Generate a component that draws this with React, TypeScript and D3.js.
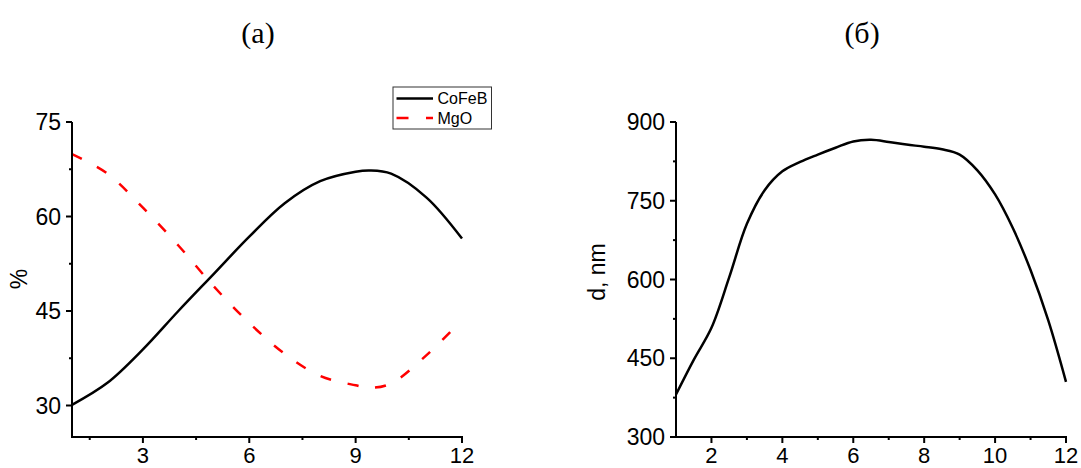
import React from 'react';
import * as d3 from 'd3';

// chart (a): composition, %
const xA = [1, 2, 3, 4, 5, 6, 7, 8, 9, 9.4, 10, 11, 12];
const cofeb = [30.1, 33.6, 38.9, 45.0, 50.9, 56.8, 62.1, 65.6, 67.1, 67.3, 66.8, 63.0, 56.5];
const mgo = [69.9, 66.8, 61.4, 55.4, 48.9, 43.1, 38.2, 34.7, 33.2, 32.8, 33.5, 38.0, 43.6];
const ticksAX = [3, 6, 9, 12];
const minorAX = [1.5, 4.5, 7.5, 10.5];
const ticksAY = [30, 45, 60, 75];
const minorAY = [37.5, 52.5, 67.5];

// chart (б): thickness d, nm
const xB = [1, 1.5, 2, 2.5, 3, 3.5, 4, 4.5, 5, 5.5, 6, 6.5, 7, 7.5, 8, 8.5, 9, 9.5, 10, 10.5, 11, 11.5, 12];
const thick = [381, 447, 508, 604, 706, 770, 806, 824, 838, 851, 863, 866, 862, 857, 853, 848, 838, 808, 762, 698, 618, 522, 405];
const ticksBX = [2, 4, 6, 8, 10, 12];
const minorBX = [3, 5, 7, 9, 11];
const ticksBY = [300, 450, 600, 750, 900];
const minorBY = [375, 525, 675, 825];

const FONT = 'Arial, "Liberation Sans", sans-serif';
const SERIF = '"Liberation Serif", "Times New Roman", serif';

type AxesProps = {
  x: d3.ScaleLinear<number, number>;
  y: d3.ScaleLinear<number, number>;
  xt: number[];
  xm: number[];
  yt: number[];
  ym: number[];
};

const Axes = ({ x, y, xt, xm, yt, ym }: AxesProps) => {
  const [x0, x1] = x.range();
  const [y0, y1] = y.range();
  return (
    <g stroke="#000" strokeWidth={2}>
      <line x1={x0} x2={x0} y1={y0 + 1} y2={y1} />
      <line x1={x0} x2={x1 + 1} y1={y0} y2={y0} />
      {yt.map((t) => (
        <g key={'y' + t}>
          <line x1={x0 - 6} x2={x0} y1={y(t)} y2={y(t)} />
          <text x={x0 - 11} y={y(t) + 8} textAnchor="end" fontSize={23} fontFamily={FONT} stroke="none" fill="#000">
            {t}
          </text>
        </g>
      ))}
      {ym.map((t) => (
        <line key={'ym' + t} x1={x0 - 3} x2={x0} y1={y(t)} y2={y(t)} />
      ))}
      {xt.map((t) => (
        <g key={'x' + t}>
          <line x1={x(t)} x2={x(t)} y1={y0} y2={y0 + 6} />
          <text x={x(t)} y={y0 + 26} textAnchor="middle" fontSize={22} fontFamily={FONT} stroke="none" fill="#000">
            {t}
          </text>
        </g>
      ))}
      {xm.map((t) => (
        <line key={'xm' + t} x1={x(t)} x2={x(t)} y1={y0} y2={y0 + 3} />
      ))}
    </g>
  );
};

const App = () => {
  const width = 1081;
  const height = 468;

  const xa = d3.scaleLinear().domain([1, 12]).range([72, 462]);
  const ya = d3.scaleLinear().domain([25, 75]).range([437, 122]);
  const xb = d3.scaleLinear().domain([1, 12]).range([676, 1066]);
  const yb = d3.scaleLinear().domain([300, 900]).range([437, 122]);

  const lineA = d3
    .line<number>()
    .x((_, i) => xa(xA[i]))
    .curve(d3.curveCatmullRom.alpha(0.5));
  const pathCo = lineA.y((v) => ya(v))(cofeb) || '';
  const pathMg = lineA.y((v) => ya(v))(mgo) || '';

  const pathD =
    d3
      .line<number>()
      .x((_, i) => xb(xB[i]))
      .y((v) => yb(v))
      .curve(d3.curveCatmullRom.alpha(0.5))(thick) || '';

  return (
    <div style={{ position: 'absolute', left: 0, top: 0 }}>
      <svg width={width} height={height} style={{ display: 'block', background: '#fff' }}>
        <text x={258} y={43} textAnchor="middle" fontSize={30} fontFamily={SERIF}>
          (a)
        </text>
        <text x={862} y={43} textAnchor="middle" fontSize={30} fontFamily={SERIF}>
          (б)
        </text>

        {/* chart (a) */}
        <path d={pathMg} fill="none" stroke="#ff0000" strokeWidth={2.5} strokeDasharray="11 17" />
        <path d={pathCo} fill="none" stroke="#000" strokeWidth={2.5} />
        <Axes x={xa} y={ya} xt={ticksAX} xm={minorAX} yt={ticksAY} ym={minorAY} />
        <text transform="translate(27,279) rotate(-90)" textAnchor="middle" fontSize={23} fontFamily={FONT}>
          %
        </text>

        <g>
          <rect x={393} y={87} width={98.5} height={42} fill="#fff" stroke="#333" strokeWidth={1} />
          <line x1={396.5} x2={433} y1={98.5} y2={98.5} stroke="#000" strokeWidth={2.5} />
          <line x1={396.5} x2={433} y1={118} y2={118} stroke="#ff0000" strokeWidth={2.5} strokeDasharray="12 17.5" />
          <text x={437.5} y={104} fontSize={16} fontFamily={FONT}>
            CoFeB
          </text>
          <text x={437.5} y={123.5} fontSize={16} fontFamily={FONT}>
            MgO
          </text>
        </g>

        {/* chart (б) */}
        <path d={pathD} fill="none" stroke="#000" strokeWidth={2.5} />
        <Axes x={xb} y={yb} xt={ticksBX} xm={minorBX} yt={ticksBY} ym={minorBY} />
        <text transform="translate(605,272) rotate(-90)" textAnchor="middle" fontSize={23} fontFamily={FONT}>
          d, nm
        </text>
      </svg>
    </div>
  );
};

export default App;
